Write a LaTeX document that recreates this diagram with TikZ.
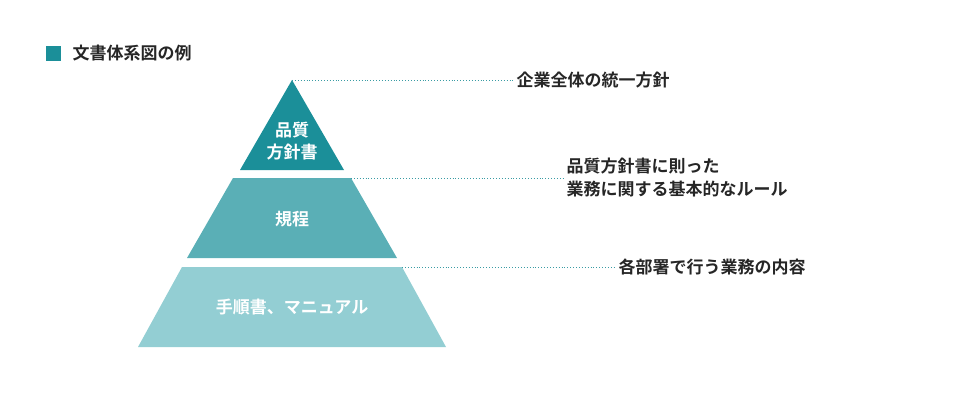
\documentclass[tikz,border=0pt]{standalone}
\usepackage{fontspec}
\setmainfont{Noto Sans CJK JP}[BoldFont={Noto Sans CJK JP Bold}]
\definecolor{tealA}{HTML}{1B8F99}
\definecolor{tealB}{HTML}{5AAFB6}
\definecolor{tealC}{HTML}{93CED3}
\definecolor{dotc}{HTML}{3A9CA4}
\tikzset{
	lbl/.style={font=\fontsize{17}{22}\selectfont\bfseries,text=white,align=center},
	note/.style={anchor=west,font=\fontsize{17}{23}\selectfont\bfseries,text=black!85,align=left},
	guide/.style={dotc,dotted,line width=0.9pt}
}
\begin{document}
\begin{tikzpicture}[x=1pt,y=-1pt]
\useasboundingbox (0,0) rectangle (960,401);
% legend
\fill[tealA] (46,46) rectangle (61,61);
\node[anchor=west,font=\fontsize{17}{20}\selectfont\bfseries,text=black!85] (legend) at (69,53.5) {文書体系図の例};
% pyramid
\fill[tealA] (292,80) -- (344,170) -- (240,170) -- cycle;
\fill[tealB] (233,178) -- (351,178) -- (397,258) -- (187,258) -- cycle;
\fill[tealC] (182,267) -- (402,267) -- (446,347) -- (138,347) -- cycle;
\node[lbl] (top) at (292,141) {品質\\方針書};
\node[lbl] (mid) at (292,219) {規程};
\node[lbl] (low) at (292,307) {手順書、マニュアル};
% guides
\coordinate (t) at (292,80);
\coordinate (m) at (351,178);
\coordinate (b) at (402,267);
\node[note] (n1) at (513,80) {企業全体の統一方針};
\node[note] (n2) at (563,178) {品質方針書に則った\\業務に関する基本的なルール};
\node[note] (n3) at (615,267) {各部署で行う業務の内容};
\draw[guide] (t) -- (n1.west);
\draw[guide] (m) -- (n2.west);
\draw[guide] (b) -- (n3.west);
\end{tikzpicture}
\end{document}
